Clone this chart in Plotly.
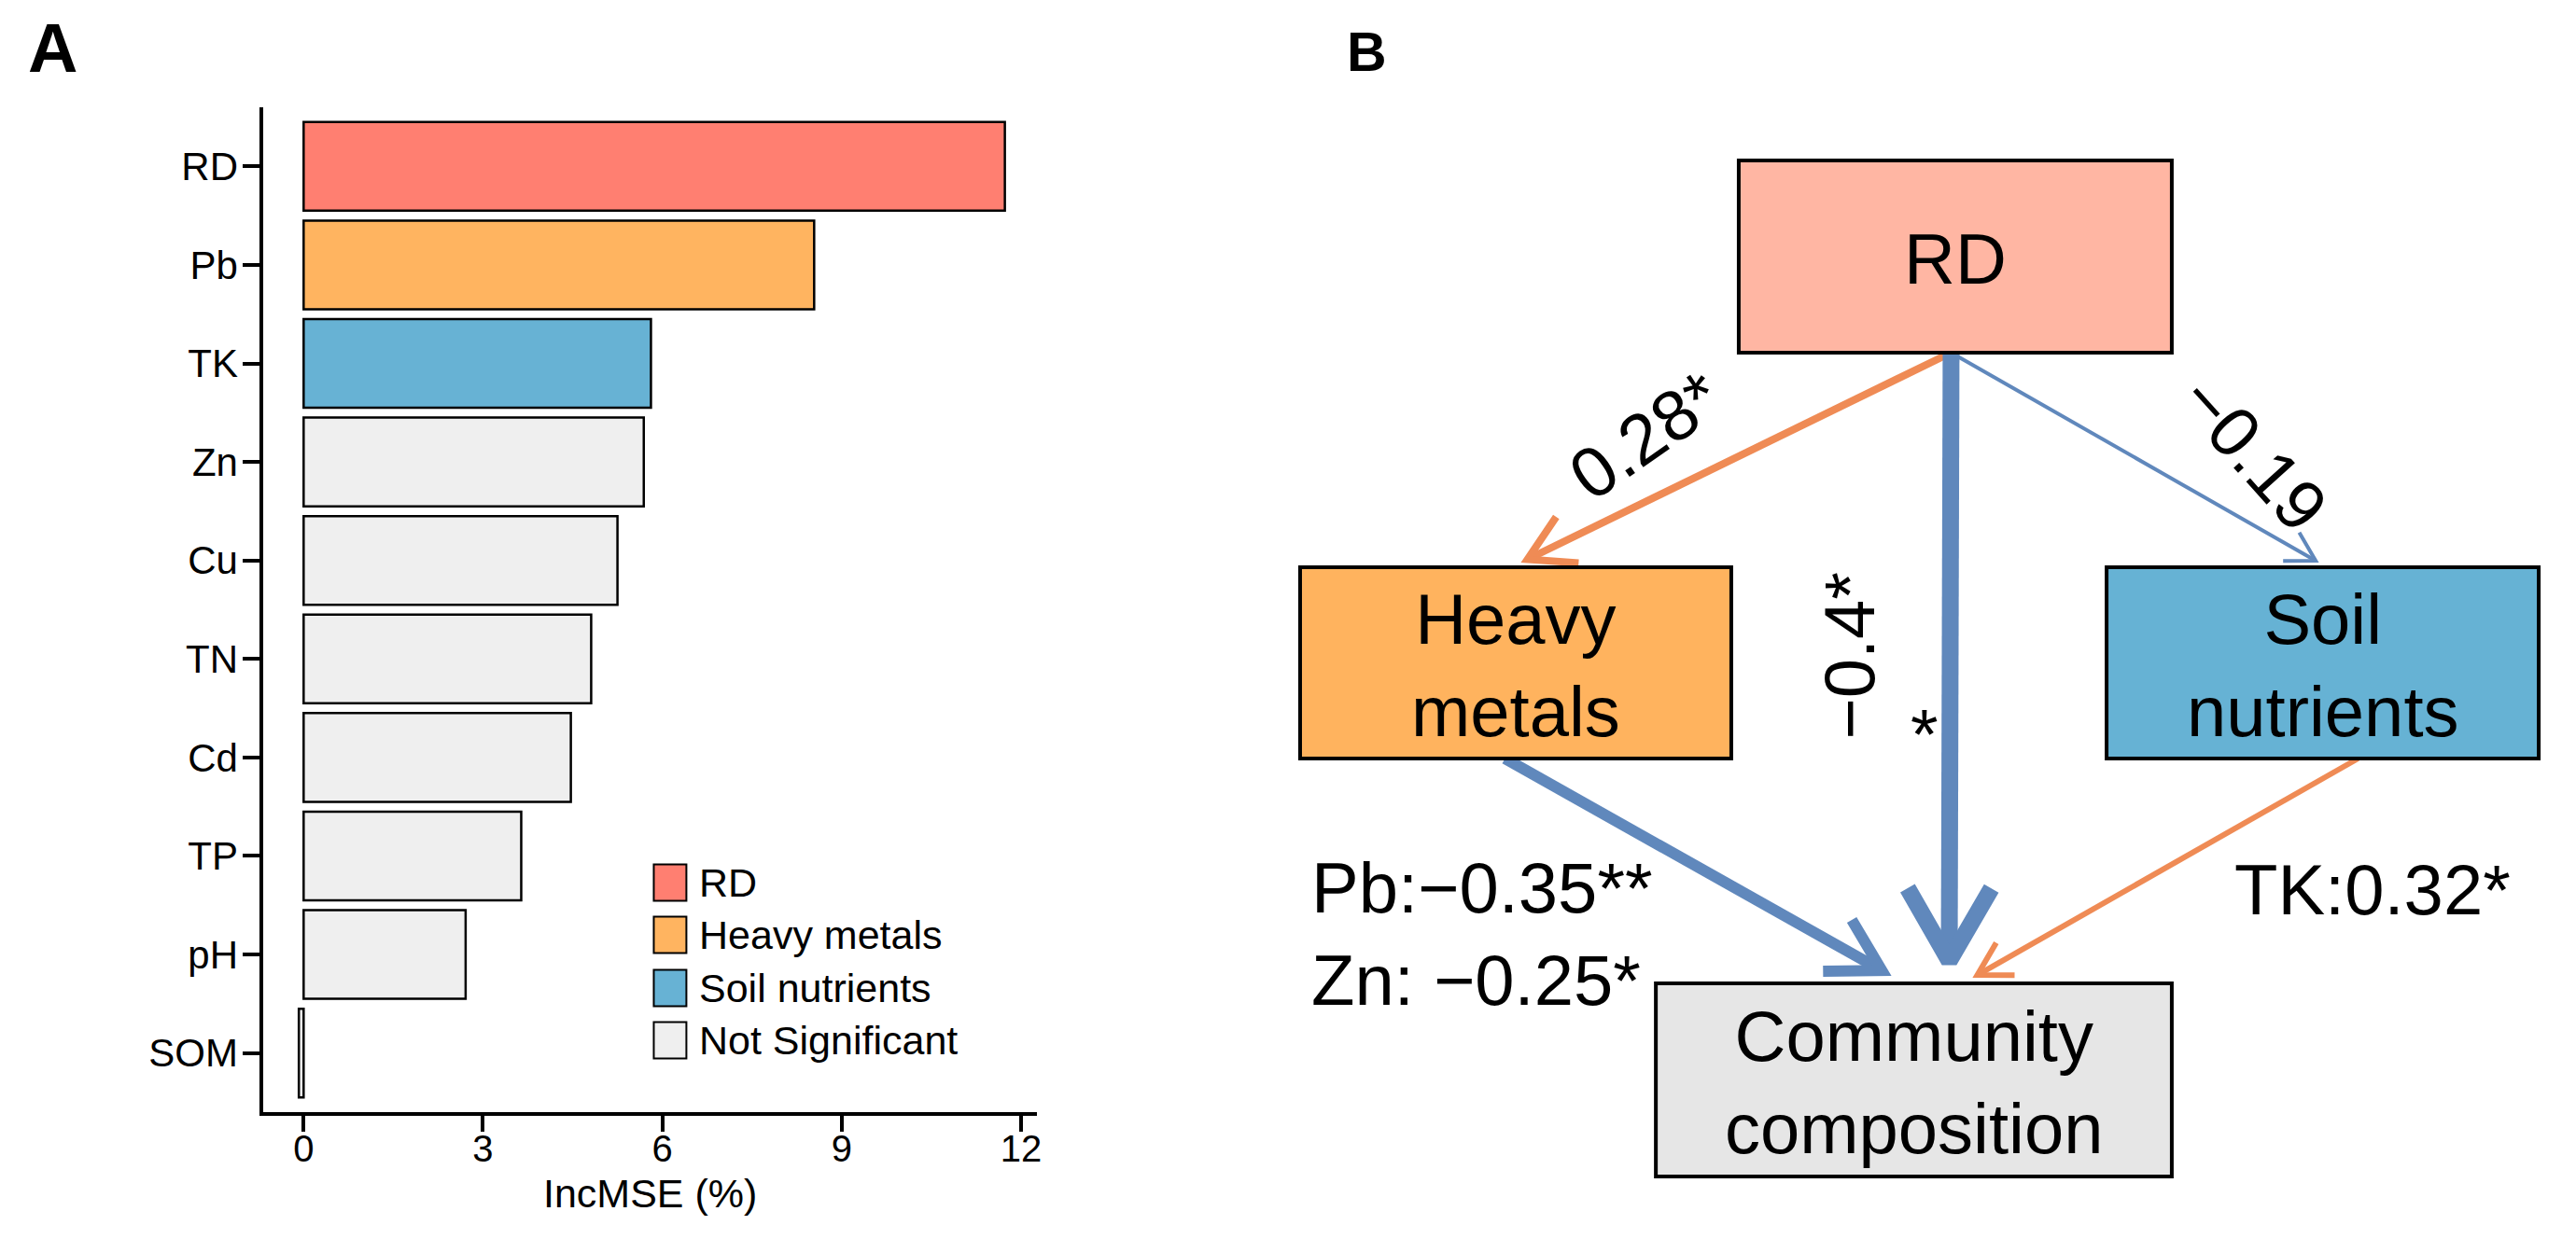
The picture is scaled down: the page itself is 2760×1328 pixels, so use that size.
import math
import plotly.graph_objects as go

# ---------------- Panel A data ----------------
variables = ["RD", "Pb", "TK", "Zn", "Cu", "TN", "Cd", "TP", "pH", "SOM"]
inc_mse = [11.73, 8.54, 5.81, 5.69, 5.25, 4.81, 4.47, 3.64, 2.71, -0.08]
var_group = ["RD", "Heavy metals", "Soil nutrients", "Not Significant", "Not Significant",
             "Not Significant", "Not Significant", "Not Significant", "Not Significant",
             "Not Significant"]
group_names = ["RD", "Heavy metals", "Soil nutrients", "Not Significant"]
group_colors = ["#FF7F71", "#FFB460", "#67B2D4", "#EFEFEF"]
x_ticks = [0, 3, 6, 9, 12]
x_title = "IncMSE (%)"

# ---------------- Panel B data ----------------
node_names = ["RD", "Heavy metals", "Soil nutrients", "Community composition"]
node_text = ["RD", "Heavy<br>metals", "Soil<br>nutrients", "Community<br>composition"]
node_fill = ["#FFB6A3", "#FFB35E", "#66B2D4", "#E6E6E6"]
edge_from = [0, 0, 0, 1, 2]
edge_to = [1, 2, 3, 3, 3]
edge_coef = [0.28, -0.19, -0.40, -0.35, 0.32]
edge_text = ["0.28*", "−0.19", "−0.4*", "Pb:−0.35**<br>Zn: −0.25*", "TK:0.32*"]

# ---------------- layout / style (page pixel coordinates) ----------------
W, H = 2760, 1328
OFF = 8                      # default page body margin
FW, FH = W - 2 * OFF, H - 2 * OFF
FONT = "Arial, Liberation Sans, sans-serif"
POS_COL = "#EF8B55"
NEG_COL = "#6088BC"


def dx_(px):
    return (px - OFF) / FW


def dy_(py):
    return 1 - (py - OFF) / FH


node_box = [(1867, 2332, 172, 378), (1396, 1859, 608, 813),
            (2262, 2726, 608, 813), (1778, 2332, 1054, 1261)]
edge_start = [(2095, 378), (2095, 378), (2095, 378), (1616, 813), (2532, 813)]
edge_tip = [(1633, 603), (2490, 603), (2093, 1048), (2031, 1046), (2118, 1048)]
edge_width = [8, 4, 18, 12, 6]
edge_head = [55, 35, 90, 63, 40]
edge_label_pos = [(1767, 466, -35, "center"), (2420, 485, 48, "center"),
                  (1985, 703, -90, "center"), (1406, 1001, 0, "left"),
                  (2548, 953, 0, "center")]

fig = go.Figure()

# ---- Panel A bars ----
color_of = dict(zip(group_names, group_colors))
fig.add_trace(go.Bar(
    y=variables, x=inc_mse, orientation="h",
    marker=dict(color=[color_of[g] for g in var_group],
                line=dict(color="black", width=2.5)),
    width=0.9, showlegend=False, xaxis="x", yaxis="y"))

# ---- Panel B arrows ----
for i in range(len(edge_from)):
    sx, sy = edge_start[i]
    tx, ty = edge_tip[i]
    w = edge_width[i]
    L = edge_head[i]
    ddx, ddy = tx - sx, ty - sy
    n = math.hypot(ddx, ddy)
    ux, uy = ddx / n, ddy / n
    vx, vy = tx - ux * w, ty - uy * w
    bx, by = -ux, -uy
    arms = []
    for a in (math.radians(30), math.radians(-30)):
        rx = bx * math.cos(a) - by * math.sin(a)
        ry = bx * math.sin(a) + by * math.cos(a)
        arms.append((vx + L * rx, vy + L * ry))
    col = POS_COL if edge_coef[i] > 0 else NEG_COL
    fig.add_trace(go.Scatter(
        x=[sx, vx, None, arms[0][0], vx, arms[1][0]],
        y=[sy, vy, None, arms[0][1], vy, arms[1][1]],
        mode="lines", line=dict(color=col, width=w),
        showlegend=False, hoverinfo="skip", xaxis="x2", yaxis="y2"))

shapes = []
annotations = []

# node boxes
for i, name in enumerate(node_names):
    x0, x1, y0, y1 = node_box[i]
    shapes.append(dict(type="rect", xref="x2", yref="y2", x0=x0, x1=x1, y0=y0, y1=y1,
                       fillcolor=node_fill[i], line=dict(color="black", width=4),
                       layer="above"))
    annotations.append(dict(xref="x2", yref="y2", x=(x0 + x1) / 2, y=(y0 + y1) / 2 + 2,
                            text=node_text[i], showarrow=False,
                            font=dict(family=FONT, size=76, color="black"),
                            xanchor="center", yanchor="middle", align="center"))

# edge labels
for i, t in enumerate(edge_text):
    x, y, ang, anc = edge_label_pos[i]
    annotations.append(dict(xref="x2", yref="y2", x=x, y=y, text=t, showarrow=False,
                            textangle=ang, xanchor=anc, yanchor="middle", align="left",
                            font=dict(family=FONT, size=76, color="black")))
annotations.append(dict(xref="x2", yref="y2", x=2066, y=786, text="*", showarrow=False,
                        xanchor="center", yanchor="middle",
                        font=dict(family=FONT, size=76, color="black")))

# legend of panel A (drawn manually)
leg_y = [946, 1002, 1059, 1115]
for i, g in enumerate(group_names):
    cy = leg_y[i]
    shapes.append(dict(type="rect", xref="x2", yref="y2", x0=702, x1=737,
                       y0=cy - 19.5, y1=cy + 19.5, fillcolor=group_colors[i],
                       line=dict(color="black", width=2), layer="above"))
    annotations.append(dict(xref="x2", yref="y2", x=749, y=cy, text=g, showarrow=False,
                            xanchor="left", yanchor="middle",
                            font=dict(family=FONT, size=43, color="black")))

# axis title
annotations.append(dict(xref="x2", yref="y2", x=698, y=1279, text=x_title, showarrow=False,
                        xanchor="center", yanchor="middle",
                        font=dict(family=FONT, size=43, color="black")))
# panel letters
annotations.append(dict(xref="x2", yref="y2", x=28, y=51, text="<b>A</b>", showarrow=False,
                        xanchor="left", yanchor="middle",
                        font=dict(family=FONT, size=74, color="black")))
annotations.append(dict(xref="x2", yref="y2", x=1444, y=56, text="<b>B</b>", showarrow=False,
                        xanchor="left", yanchor="middle",
                        font=dict(family=FONT, size=59, color="black")))

fig.update_layout(
    width=FW, height=FH, margin=dict(l=0, r=0, t=0, b=0),
    paper_bgcolor="white", plot_bgcolor="rgba(0,0,0,0)",
    showlegend=False,
    xaxis=dict(domain=[dx_(283), dx_(1113)], range=[-0.67, 12.26], tickvals=x_ticks,
               ticks="outside", ticklen=17, tickwidth=4, tickcolor="black",
               showline=True, linewidth=4, linecolor="black", showgrid=False,
               zeroline=False, tickfont=dict(family=FONT, size=40, color="black"),
               ticklabelstandoff=-16, anchor="y", fixedrange=True),
    yaxis=dict(domain=[dy_(1192), dy_(115)], type="category",
               categoryorder="array", categoryarray=variables, range=[9.6, -0.6],
               ticks="outside", ticklen=18, tickwidth=4, tickcolor="black",
               showline=True, linewidth=4, linecolor="black", showgrid=False,
               zeroline=False, tickfont=dict(family=FONT, size=42, color="black"),
               ticklabelstandoff=-3, anchor="x", fixedrange=True),
    xaxis2=dict(domain=[0, 1], range=[OFF, W - OFF], visible=False, anchor="y2",
                fixedrange=True),
    yaxis2=dict(domain=[0, 1], range=[H - OFF, OFF], visible=False, anchor="x2",
                fixedrange=True),
    shapes=shapes, annotations=annotations,
)

fig.write_html("out.html")
